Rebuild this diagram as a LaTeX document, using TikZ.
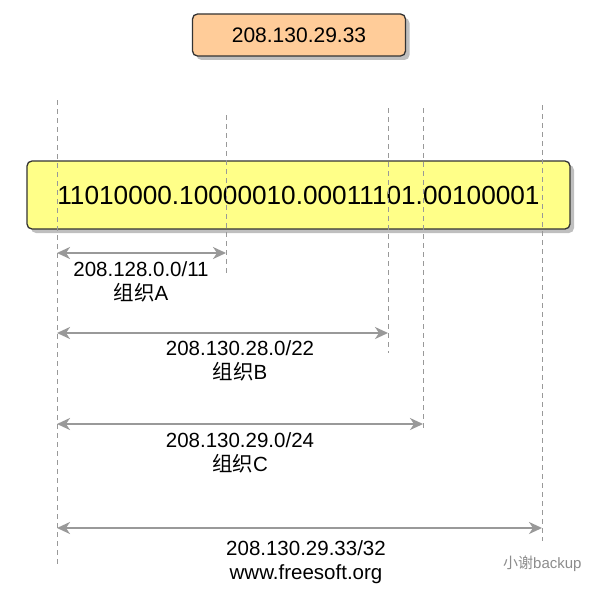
\documentclass[tikz,border=0pt]{standalone}
\usepackage{fontspec}
\setmainfont{Liberation Sans}
\newfontfamily\cjk{Noto Sans CJK SC}
\usetikzlibrary{arrows.meta,shadows,decorations.pathmorphing}
\definecolor{boxorange}{HTML}{FFCC99}
\definecolor{boxyellow}{HTML}{FFFF88}
\definecolor{guide}{HTML}{999999}
\definecolor{edge}{HTML}{333333}
\tikzset{
  sketchbox/.style={draw=edge, line width=1.3pt, rounded corners=5pt,
    drop shadow={shadow xshift=4pt, shadow yshift=-4pt, fill=black!25, opacity=1}},
  guideline/.style={draw=guide, line width=1pt, dash pattern=on 5pt off 4pt},
  span/.style={draw=guide, line width=2.4pt, {Stealth[length=13pt,width=12pt,inset=4pt]}-{Stealth[length=13pt,width=12pt,inset=4pt]}},
  lbl/.style={font=\fontsize{20.5}{24}\selectfont, align=center, inner sep=0pt},
}
\begin{document}
\begin{tikzpicture}[x=1pt,y=-1pt]
\useasboundingbox (0,0) rectangle (601,591);
% guide lines
\coordinate (g1t) at (57,100);  \coordinate (g1b) at (57,566);
\coordinate (g2t) at (226,115); \coordinate (g2b) at (226,276);
\coordinate (g3t) at (388,108); \coordinate (g3b) at (388,353);
\coordinate (g4t) at (423,108); \coordinate (g4b) at (423,431);
\coordinate (g5t) at (542,105); \coordinate (g5b) at (542,541);
% boxes
\node[sketchbox, fill=boxorange, minimum width=213pt, minimum height=42pt,
  font=\fontsize{21}{24}\selectfont] (ip) at (299,35) {208.130.29.33};
\node[sketchbox, fill=boxyellow, minimum width=543pt, minimum height=68pt,
  font=\fontsize{26.2}{30}\selectfont, inner sep=0pt] (bin) at (298.5,195) {11010000.10000010.00011101.00100001};
\foreach \g in {1,...,5} \draw[guideline] (g\g t) -- (g\g b);
% spans
\coordinate (a1) at (57,253);  \coordinate (a2) at (226,253);
\coordinate (b1) at (57,333);  \coordinate (b2) at (388,333);
\coordinate (c1) at (57,424);  \coordinate (c2) at (423,424);
\coordinate (d1) at (57,528);  \coordinate (d2) at (542,528);
\draw[span] (a1) -- (a2);
\draw[span] (b1) -- (b2);
\draw[span] (c1) -- (c2);
\draw[span] (d1) -- (d2);
\node[lbl] (la) at (141,282) {208.128.0.0/11\\{\cjk 组织}A};
\node[lbl] (lb) at (240,361) {208.130.28.0/22\\{\cjk 组织}B};
\node[lbl] (lc) at (240,453) {208.130.29.0/24\\{\cjk 组织}C};
\node[lbl] (ld) at (306,562) {208.130.29.33/32\\www.freesoft.org};
\node[font=\fontsize{15}{17}\selectfont, text=black!45, inner sep=0pt, anchor=west] (wm) at (503,564) {{\cjk 小谢}backup};
\end{tikzpicture}
\end{document}
